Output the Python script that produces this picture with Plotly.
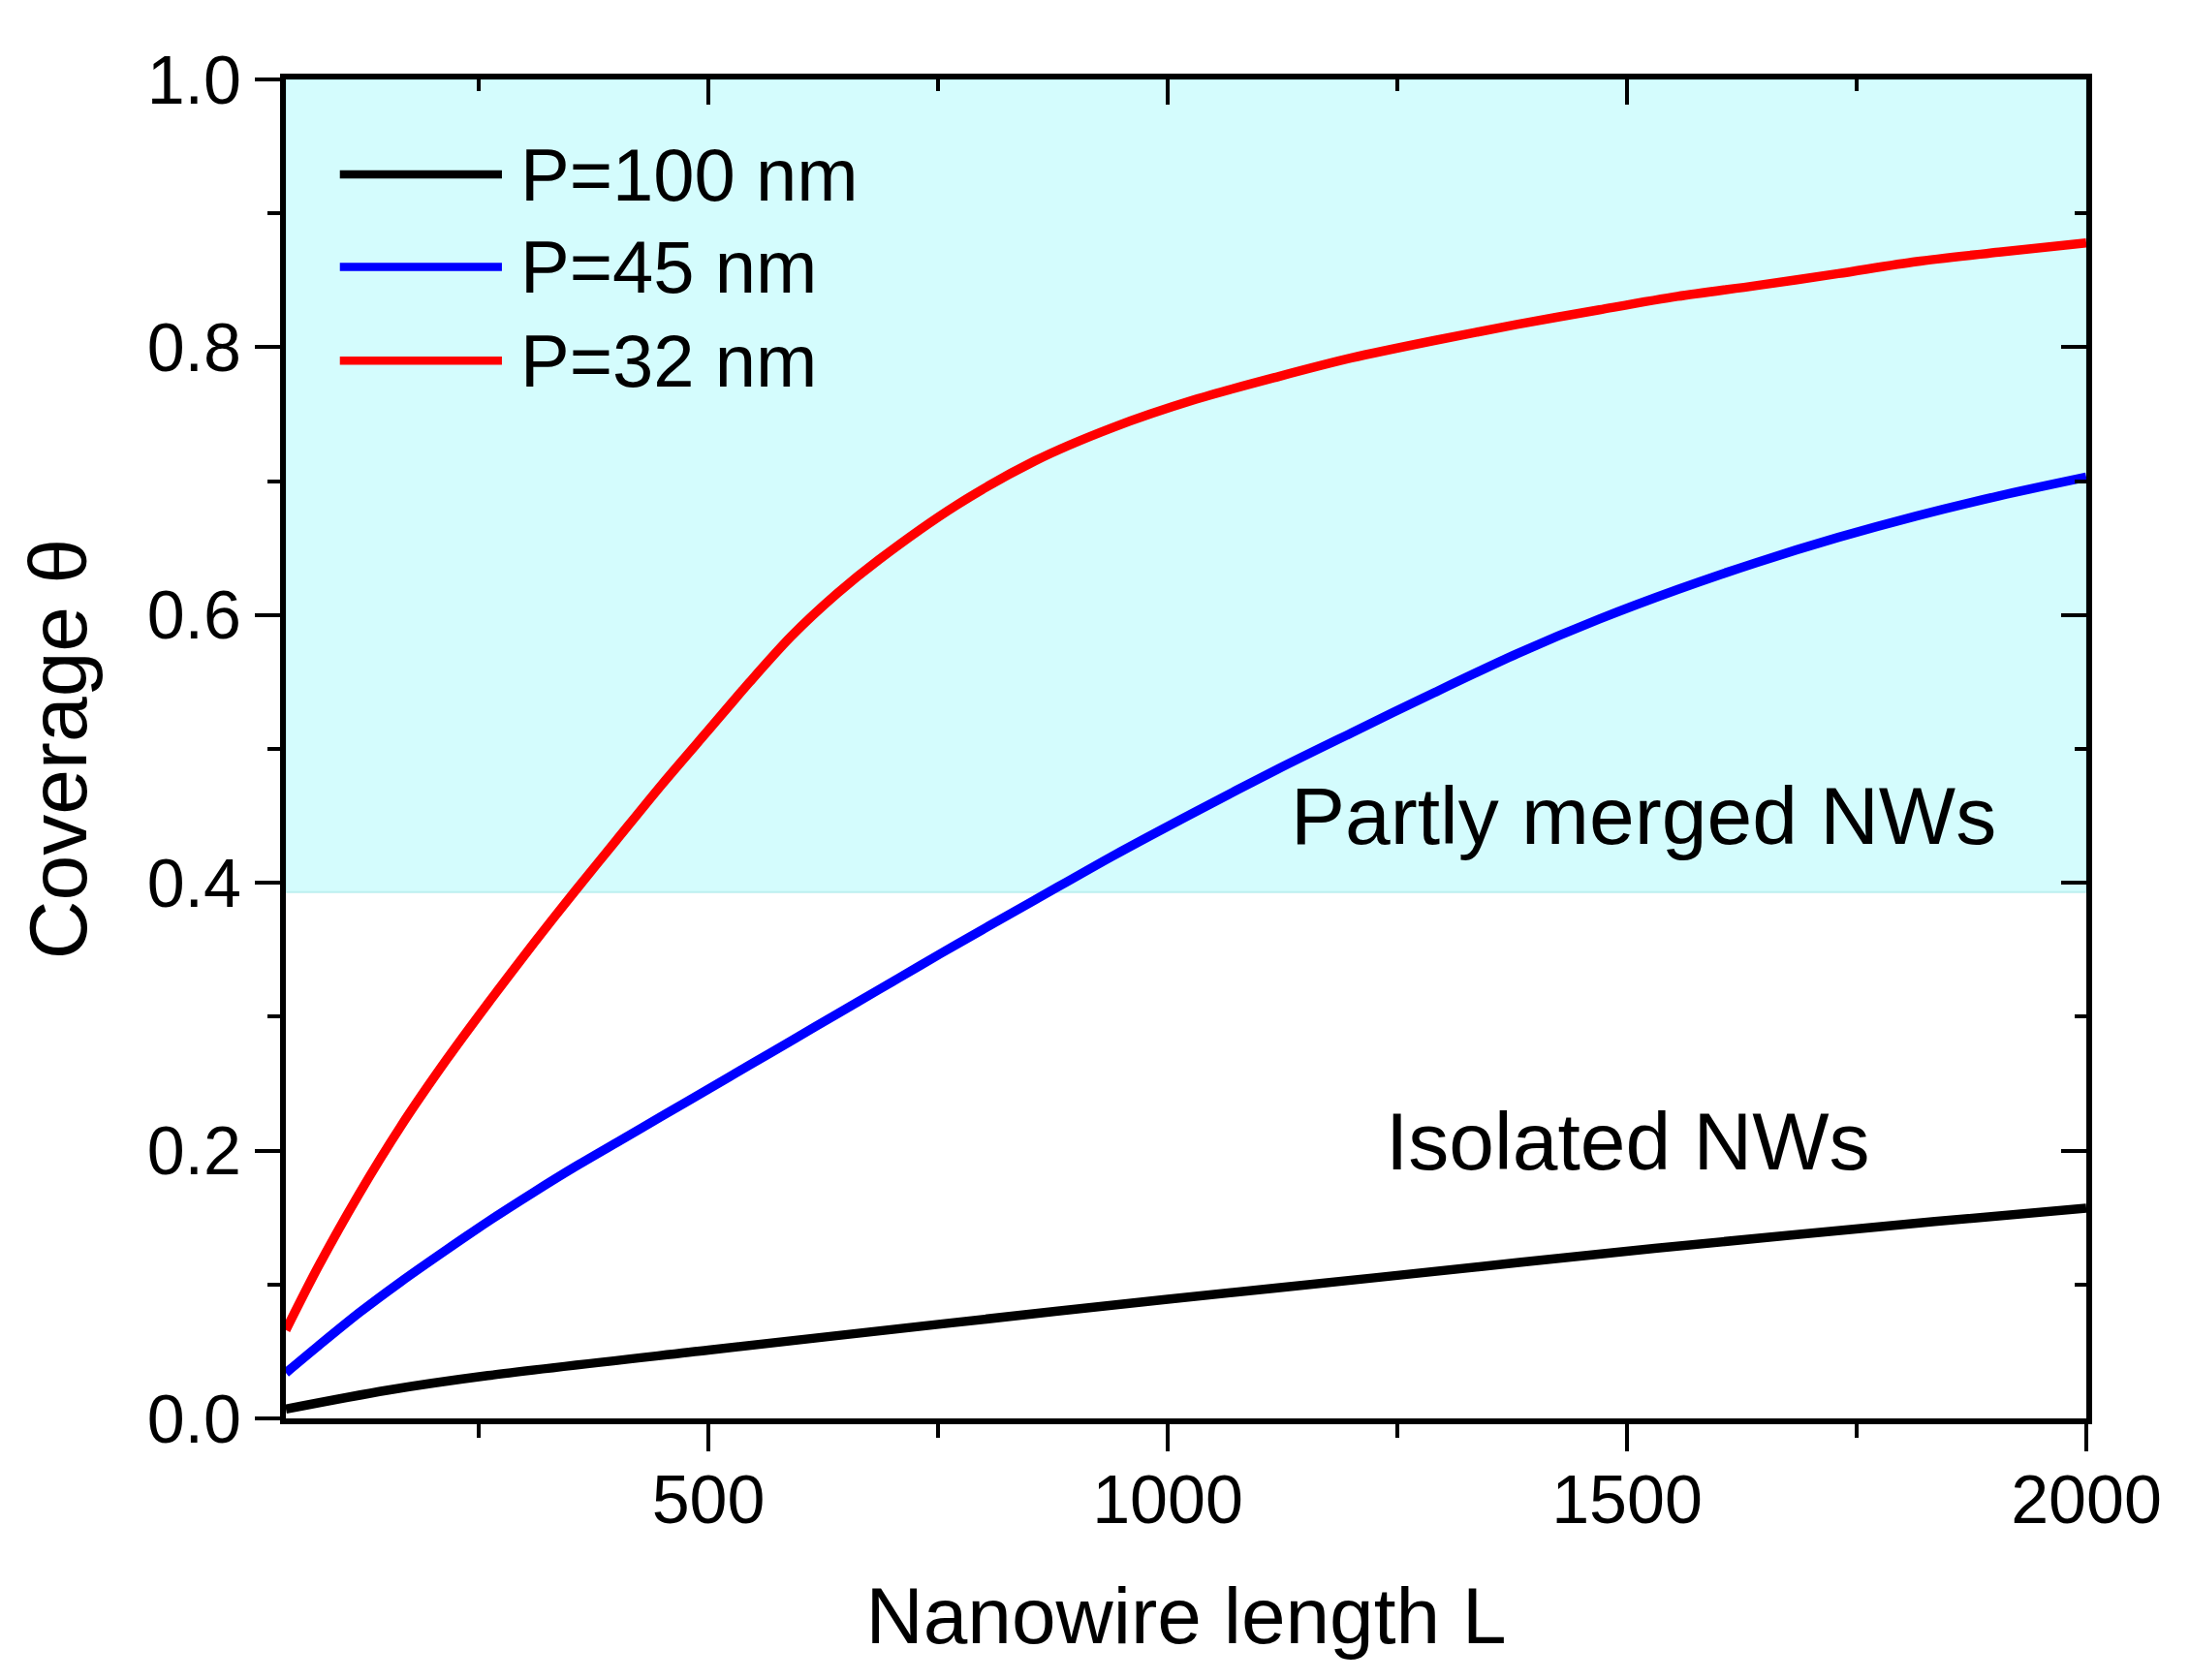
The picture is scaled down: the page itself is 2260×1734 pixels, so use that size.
import plotly.graph_objects as go

# Coverage vs nanowire length
L_32 = [40, 75, 120, 165, 215, 260, 310, 355, 400, 450, 500, 545, 590, 640, 685,
        770, 855, 940, 1030, 1120, 1200, 1290, 1380, 1470, 1555, 1640, 1730, 1815, 1905, 2000]
theta_32 = [0.066, 0.113, 0.168, 0.218, 0.268, 0.310, 0.355, 0.394, 0.432, 0.474, 0.514, 0.550, 0.584, 0.616, 0.641,
            0.682, 0.715, 0.740, 0.761, 0.778, 0.792, 0.805, 0.817, 0.828, 0.838, 0.846, 0.855, 0.864, 0.871, 0.878]

L_45 = [40, 75, 120, 165, 215, 260, 310, 355, 400, 450, 500, 545, 590, 640, 685, 730,
        770, 855, 940, 1030, 1120, 1200, 1290, 1380, 1470, 1555, 1640, 1730, 1815, 1905, 2000]
theta_45 = [0.034, 0.054, 0.079, 0.102, 0.126, 0.147, 0.169, 0.188, 0.206, 0.226, 0.246, 0.264, 0.282, 0.302, 0.320, 0.338,
            0.354, 0.387, 0.420, 0.453, 0.485, 0.512, 0.542, 0.571, 0.597, 0.619, 0.639, 0.658, 0.674, 0.689, 0.703]

L_100 = [40, 150, 260, 500, 760, 1000, 1225, 1530, 1835, 2000]
theta_100 = [0.007, 0.021, 0.032, 0.051, 0.071, 0.089, 0.105, 0.127, 0.147, 0.157]

series_names = ["P=100 nm", "P=45 nm", "P=32 nm"]
series_colors = ["#000000", "#0000FF", "#FF0000"]

merged_threshold = 0.393  # coverage above which NWs are partly merged

FONT = "Liberation Sans, Arial, sans-serif"

fig = go.Figure()

# the black curve goes on the overlay axes so that the top/right frame gets drawn
for xs, ys, name, col, xa, ya in zip([L_100, L_45, L_32], [theta_100, theta_45, theta_32],
                                     series_names, series_colors,
                                     ["x2", "x", "x"], ["y2", "y", "y"]):
    fig.add_trace(go.Scatter(
        x=xs, y=ys, name=name, mode="lines", xaxis=xa, yaxis=ya,
        line=dict(color=col, width=9.5, shape="spline", smoothing=0.8),
        showlegend=False
    ))

# shaded "partly merged" region
fig.add_shape(type="rect", xref="x domain", yref="y", x0=0, x1=1,
              y0=merged_threshold, y1=1.0, fillcolor="#D4FCFD",
              line=dict(color="#BDEFF0", width=2), layer="below")

# hand-drawn legend (longer line samples than plotly's own legend)
legend_rows = [0.929, 0.860, 0.790]
for name, col, yy in zip(series_names, series_colors, legend_rows):
    fig.add_shape(type="line", xref="paper", yref="paper", x0=0.030, x1=0.120,
                  y0=yy, y1=yy, line=dict(color=col, width=8.5))
    fig.add_annotation(text=name, xref="paper", yref="paper", x=0.129, y=yy,
                       xanchor="left", yanchor="middle", showarrow=False,
                       font=dict(family=FONT, size=76, color="black"))

fig.add_annotation(text="Partly merged NWs", x=1518, y=0.450, xref="x", yref="y",
                   showarrow=False, font=dict(family=FONT, size=84, color="black"))
fig.add_annotation(text="Isolated NWs", x=1501, y=0.207, xref="x", yref="y",
                   showarrow=False, font=dict(family=FONT, size=84, color="black"))

axis_common = dict(showline=True, linecolor="black", linewidth=6, showgrid=False,
                   zeroline=False, tickcolor="black", tickwidth=4)

fig.update_layout(
    width=2260, height=1734,
    margin=dict(l=287, r=115, t=74, b=278),
    plot_bgcolor="white", paper_bgcolor="white",
    font=dict(family=FONT, color="black"),
    xaxis=dict(range=[40, 2000], tick0=0, dtick=500, ticks="outside", ticklen=28,
               minor=dict(dtick=250, tick0=0, ticks="outside", ticklen=14,
                          tickcolor="black", tickwidth=4),
               tickfont=dict(size=70), ticklabelstandoff=-10,
               title=dict(text="Nanowire length L", font=dict(size=82), standoff=55),
               **axis_common),
    yaxis=dict(range=[0, 1.0], tick0=0, dtick=0.2, tickformat=".1f", ticks="outside",
               ticklen=26, minor=dict(dtick=0.1, tick0=0, ticks="outside", ticklen=13,
                                      tickcolor="black", tickwidth=4),
               tickfont=dict(size=70),
               title=dict(text="Coverage θ", font=dict(size=84), standoff=36),
               **axis_common),
    xaxis2=dict(overlaying="x", side="top", anchor="y2", range=[40, 2000], tick0=0,
                dtick=500, ticks="inside", ticklen=26, showticklabels=False,
                minor=dict(dtick=250, tick0=0, ticks="inside", ticklen=12,
                           tickcolor="black", tickwidth=4),
                **axis_common),
    yaxis2=dict(overlaying="y", side="right", anchor="x2", range=[0, 1.0], tick0=0,
                dtick=0.2, ticks="inside", ticklen=26, showticklabels=False,
                minor=dict(dtick=0.1, tick0=0, ticks="inside", ticklen=12,
                           tickcolor="black", tickwidth=4),
                **axis_common),
)

fig.write_html("out.html")
